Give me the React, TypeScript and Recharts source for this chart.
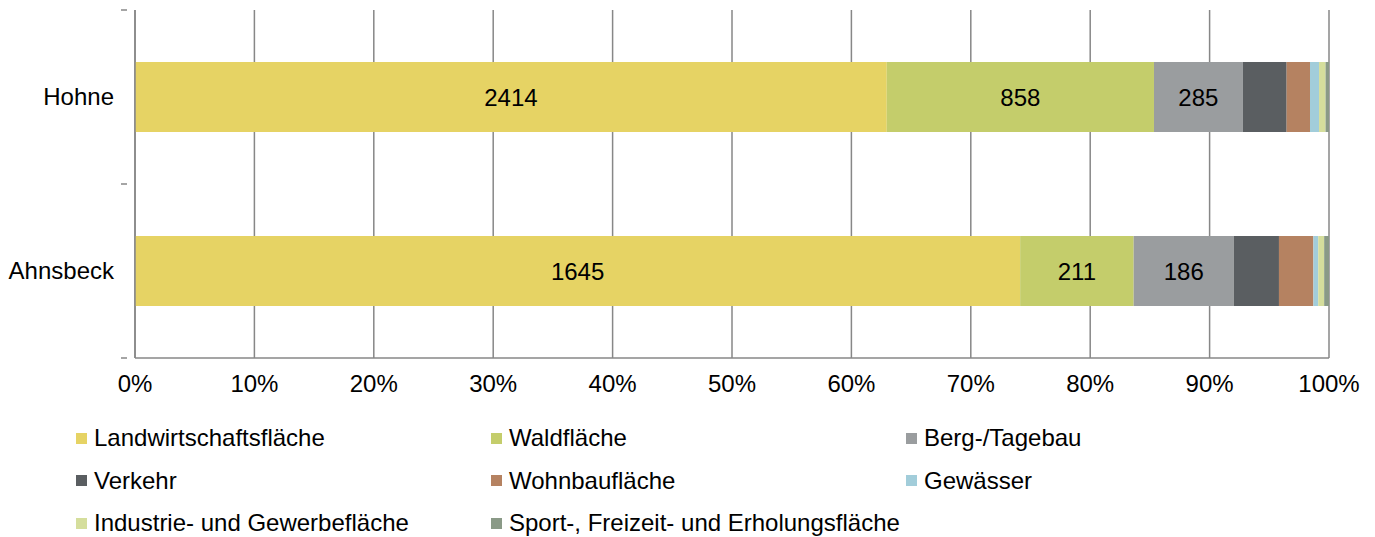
import React from "react";
import { BarChart, Bar, XAxis, YAxis, CartesianGrid, Legend, LabelList } from "recharts";

const categories = ["Hohne", "Ahnsbeck"];

const landwirtschaft = [2414, 1645];
const wald = [858, 211];
const bergbau = [285, 186];
const verkehr = [141, 84];
const wohnbau = [75, 64];
const gewaesser = [29, 9];
const industrie = [21, 11];
const sport = [11, 9];

const xTicks = [0, 0.1, 0.2, 0.3, 0.4, 0.5, 0.6, 0.7, 0.8, 0.9, 1];

const series = [
  { key: "Landwirtschaftsfläche", values: landwirtschaft, color: "#E6D364", label: true },
  { key: "Waldfläche", values: wald, color: "#C4CD6B", label: true },
  { key: "Berg-/Tagebau", values: bergbau, color: "#9A9D9F", label: true },
  { key: "Verkehr", values: verkehr, color: "#5A5E61", label: false },
  { key: "Wohnbaufläche", values: wohnbau, color: "#B58261", label: false },
  { key: "Gewässer", values: gewaesser, color: "#A2CDDA", label: false },
  { key: "Industrie- und Gewerbefläche", values: industrie, color: "#D5DE9C", label: false },
  { key: "Sport-, Freizeit- und Erholungsfläche", values: sport, color: "#8A9A87", label: false },
];

const data = categories.map((name, i) => {
  const row: Record<string, string | number> = { name };
  series.forEach((s) => {
    row[s.key] = s.values[i];
  });
  return row;
});

const font = "'Liberation Sans', Arial, sans-serif";
const axisGray = "#878787";

const CategoryTick = (props: any) => {
  const { x, y, payload, index } = props;
  const half = 87;
  return (
    <g>
      <text x={x - 13} y={y} dy={8} textAnchor="end" fontSize={24} fill="#000" fontFamily={font}>
        {payload.value}
      </text>
      <line x1={x - 6} x2={x} y1={y - half} y2={y - half} stroke={axisGray} strokeWidth={1.5} />
      {index === categories.length - 1 && (
        <line x1={x - 6} x2={x} y1={y + half} y2={y + half} stroke={axisGray} strokeWidth={1.5} />
      )}
    </g>
  );
};

const LegendContent = () => (
  <div
    style={{
      display: "grid",
      gridTemplateColumns: "415px 415px 415px",
      paddingLeft: 76,
      fontFamily: font,
      fontSize: 24,
      color: "#000",
    }}
  >
    {series.map((s) => (
      <div key={s.key} style={{ display: "flex", alignItems: "center", height: 42.5, whiteSpace: "nowrap" }}>
        <span style={{ width: 11, height: 11, background: s.color, marginRight: 7, display: "inline-block" }} />
        <span>{s.key}</span>
      </div>
    ))}
  </div>
);

export default function App() {
  return (
    <div style={{ position: "absolute", left: 0, top: 0, width: 1375, height: 537, background: "#fff" }}>
      <BarChart
        width={1375}
        height={537}
        data={data}
        layout="vertical"
        stackOffset="expand"
        barSize={70}
        margin={{ top: 10, right: 46, left: 0, bottom: 12 }}
      >
        <CartesianGrid horizontal={false} stroke={axisGray} strokeWidth={1.5} />
        <XAxis
          type="number"
          domain={[0, 1]}
          ticks={xTicks}
          tickFormatter={(v: number) => `${Math.round(v * 100)}%`}
          tick={{ fontSize: 24, fill: "#000", fontFamily: font }}
          tickLine={false}
          axisLine={{ stroke: axisGray, strokeWidth: 1.5 }}
          tickMargin={11}
          height={59}
          interval={0}
        />
        <YAxis
          type="category"
          dataKey="name"
          width={135}
          tick={<CategoryTick />}
          tickLine={false}
          axisLine={{ stroke: axisGray, strokeWidth: 1.5 }}
        />
        <Legend
          verticalAlign="bottom"
          height={108}
          content={<LegendContent />}
          wrapperStyle={{ left: 0, width: 1375, paddingTop: 0 }}
        />
        {series.map((s) => (
          <Bar key={s.key} dataKey={s.key} stackId="a" fill={s.color} isAnimationActive={false}>
            {s.label && (
              <LabelList dataKey={s.key} position="center" fill="#000" fontSize={24} fontFamily={font} />
            )}
          </Bar>
        ))}
      </BarChart>
    </div>
  );
}
